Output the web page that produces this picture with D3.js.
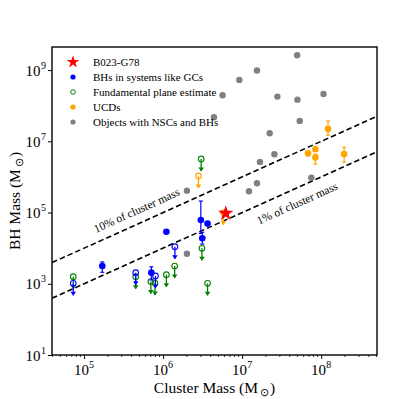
<!DOCTYPE html>
<html><head><meta charset="utf-8">
<script src="https://cdn.jsdelivr.net/npm/d3@7"></script>
<style>body{margin:0;background:#fff}svg text{font-family:"Liberation Serif","Times New Roman",serif}</style>
</head><body><svg id="c" width="419" height="399"></svg>
<script>
// ---- data ----
const xTicks = [1e5, 1e6, 1e7, 1e8];
const yTicks = [1e1, 1e3, 1e5, 1e7, 1e9];
const fracLines = [0.1, 0.01];
const fracLabels = ["10% of cluster mass", "1% of cluster mass"];
const fracLabelAt = [5.4e5, 4.2e7];

const legendLabels = ["B023-G78", "BHs in systems like GCs", "Fundamental plane estimate", "UCDs", "Objects with NSCs and BHs"];

// Objects with NSCs and BHs (grey)
const nscMass = [4.96e7, 1.54e7, 9.2e6, 5.65e6, 2.79e7, 5.0e7, 1.07e8, 4.4e6, 5.35e7, 2.23e7, 2.56e7, 1.68e7, 1.54e7, 1.22e7, 7.5e7, 2.0e6, 2.0e6];
const nscBH   = [2.6e9, 9.7e8, 5.3e8, 1.97e8, 1.8e8, 1.48e8, 2.14e8, 4.75e7, 3.74e7, 1.69e7, 4.34e6, 2.64e6, 6.65e5, 3.97e5, 9.55e5, 4.12e5, 7.0e3];

// BHs in systems like GCs (blue detections)
const gcMass = [1.7e5, 7.1e5, 1.1e6, 3.0e6, 3.65e6, 3.13e6];
const gcBH   = [3.16e3, 2.05e3, 2.9e4, 6.2e4, 4.9e4, 1.9e4];
const gcLo   = [2.1e3, 1.28e3, null, 2.6e4, null, 1.3e4];
const gcHi   = [4.1e3, 3.0e3, null, 2.1e5, null, 2.8e4];
// blue upper limits
const gcLimMass = [7.3e4, 4.5e5, 8.0e5, 1.41e6];
const gcLimBH   = [1.03e3, 2.05e3, 1.66e3, 1.1e4];

// Fundamental plane estimates (green, upper limits)
const fpMass = [7.3e4, 4.5e5, 7.0e5, 7.9e5, 1.1e6, 1.4e6, 3.03e6, 3.1e6, 3.65e6];
const fpBH   = [1.58e3, 1.58e3, 1.15e3, 1.05e3, 1.8e3, 3.16e3, 3.2e6, 9.9e3, 1.03e3];

// UCDs (orange)
const ucdMass = [1.22e8, 6.8e7, 8.45e7, 8.45e7, 1.95e8];
const ucdBH   = [2.23e7, 4.6e6, 6.0e6, 3.5e6, 4.4e6];
const ucdLo   = [1.48e7, 3.9e6, 5.2e6, 2.3e6, 2.6e6];
const ucdHi   = [3.7e7, 5.3e6, 7.0e6, 4.3e6, 6.8e6];
// UCD upper limits
const ucdLimMass = [2.8e6, 5.8e6];
const ucdLimBH   = [1.07e6, 9.9e4];

// B023-G78
const starMass = [6.2e6];
const starBH = [9.5e4];

// ---- layout ----
const svg = d3.select("#c");
const L = 52, R = 377, T = 47, B = 355;
const x = d3.scaleLog().domain([3.93e4, 5.08e8]).range([L, R]);
const y = d3.scaleLog().domain([10, 4.45e9]).range([B, T]);

const C = {blue: "#0000ff", green: "#008000", orange: "#ffa500", grey: "#808080", red: "#ff0000"};

svg.append("defs").append("clipPath").attr("id", "clip")
  .append("rect").attr("x", L).attr("y", T).attr("width", R - L).attr("height", B - T);

// x axis
const xAxis = d3.axisBottom(x).tickValues(xTicks).tickSize(4).tickFormat("");
const gx = svg.append("g").attr("transform", `translate(0,${B})`).call(xAxis);
gx.select(".domain").remove();
gx.selectAll("line").attr("stroke", "#000").attr("stroke-width", 1);
const minor = [];
for (let e = 4; e <= 8; e++) for (let m = 2; m <= 9; m++) { const v = m * Math.pow(10, e); if (v > 3.93e4 && v < 5.08e8) minor.push(v); }
svg.append("g").selectAll("line").data(minor).join("line")
  .attr("x1", d => x(d)).attr("x2", d => x(d)).attr("y1", B).attr("y2", B + 2)
  .attr("stroke", "#000").attr("stroke-width", 0.8);

const expo = d => Math.round(Math.log10(d));
const gxl = svg.append("g");
gxl.selectAll("text.b").data(xTicks).join("text").attr("class", "b")
  .attr("x", d => x(d) - 2.6).attr("y", B + 20).attr("text-anchor", "middle")
  .attr("font-size", 15).text("10");
gxl.selectAll("text.e").data(xTicks).join("text").attr("class", "e")
  .attr("x", d => x(d) + 5).attr("y", B + 13).attr("font-size", 10).text(d => expo(d));

// y axis
const yAxis = d3.axisLeft(y).tickValues(yTicks).tickSize(4).tickFormat("");
const gy = svg.append("g").attr("transform", `translate(${L},0)`).call(yAxis);
gy.select(".domain").remove();
gy.selectAll("line").attr("stroke", "#000").attr("stroke-width", 1);
const gyl = svg.append("g");
gyl.selectAll("text.b").data(yTicks).join("text").attr("class", "b")
  .attr("x", L - 11.5).attr("y", d => y(d) + 5.5).attr("text-anchor", "end")
  .attr("font-size", 15).text("10");
gyl.selectAll("text.e").data(yTicks).join("text").attr("class", "e")
  .attr("x", L - 11).attr("y", d => y(d) - 1.5).attr("font-size", 10).text(d => expo(d));

// axis titles
const xt = svg.append("text").attr("x", (L + R) / 2).attr("y", 393).attr("text-anchor", "middle").attr("font-size", 15.5);
xt.append("tspan").text("Cluster Mass (M");
xt.append("tspan").text("\u2299").attr("font-size", 11).attr("dy", 3).attr("dx", 2);
xt.append("tspan").text(")").attr("dy", -3).attr("dx", 1);
const yt = svg.append("text").attr("transform", `translate(20,${(T + B) / 2}) rotate(-90)`).attr("text-anchor", "middle").attr("font-size", 15.5);
yt.append("tspan").text("BH Mass (M");
yt.append("tspan").text("\u2299").attr("font-size", 11).attr("dy", 3).attr("dx", 2);
yt.append("tspan").text(")").attr("dy", -3).attr("dx", 1);

const plot = svg.append("g").attr("clip-path", "url(#clip)");

// fraction lines
const xs = x.domain();
fracLines.forEach(f => {
  plot.append("line")
    .attr("x1", x(xs[0])).attr("y1", y(xs[0] * f))
    .attr("x2", x(xs[1])).attr("y2", y(xs[1] * f))
    .attr("stroke", "#000").attr("stroke-width", 1.6).attr("stroke-dasharray", "5.5,3");
});
const ang = Math.atan2(y(1e5) - y(1e6), x(1e6) - x(1e5)) * 180 / Math.PI;
const offs = [-9, 18];
fracLines.forEach((f, i) => {
  const m = fracLabelAt[i];
  const px = x(m), py = y(m * f);
  const a = ang * Math.PI / 180;
  const dxp = offs[i] * Math.sin(a), dyp = offs[i] * Math.cos(a);
  svg.append("text").attr("transform", `translate(${px + dxp},${py + dyp}) rotate(${-ang})`)
    .attr("text-anchor", "middle").attr("font-size", 11.5).text(fracLabels[i]);
});

const ARROW = 12;
function arrow(g, mx, by, color) {
  const px = x(mx), py = y(by);
  g.append("line").attr("x1", px).attr("x2", px).attr("y1", py).attr("y2", py + ARROW)
    .attr("stroke", color).attr("stroke-width", 1.3);
  g.append("path").attr("d", `M${px - 2.8},${py + ARROW - 3.5} L${px + 2.8},${py + ARROW - 3.5} L${px},${py + ARROW + 0.5} Z`).attr("fill", color);
}
function errbar(g, mx, lo, hi, color) {
  if (lo == null) return;
  const px = x(mx);
  g.append("line").attr("x1", px).attr("x2", px).attr("y1", y(lo)).attr("y2", y(hi)).attr("stroke", color).attr("stroke-width", 1.2);
  [lo, hi].forEach(v => g.append("line").attr("x1", px - 2).attr("x2", px + 2).attr("y1", y(v)).attr("y2", y(v)).attr("stroke", color).attr("stroke-width", 1.2));
}

plot.append("g").selectAll("circle").data(nscMass).join("circle")
  .attr("cx", d => x(d)).attr("cy", (d, i) => y(nscBH[i])).attr("r", 3.2).attr("fill", C.grey);

const gG = plot.append("g");
fpMass.forEach((m, i) => arrow(gG, m, fpBH[i], C.green));
gG.selectAll("circle").data(fpMass).join("circle")
  .attr("cx", d => x(d)).attr("cy", (d, i) => y(fpBH[i])).attr("r", 2.8)
  .attr("fill", "none").attr("stroke", C.green).attr("stroke-width", 1.1);

const gBL = plot.append("g");
gcLimMass.forEach((m, i) => arrow(gBL, m, gcLimBH[i], C.blue));
gBL.selectAll("circle").data(gcLimMass).join("circle")
  .attr("cx", d => x(d)).attr("cy", (d, i) => y(gcLimBH[i])).attr("r", 2.8)
  .attr("fill", "none").attr("stroke", C.blue).attr("stroke-width", 1.1);

const gB = plot.append("g");
gcMass.forEach((m, i) => errbar(gB, m, gcLo[i], gcHi[i], C.blue));
gB.selectAll("circle").data(gcMass).join("circle")
  .attr("cx", d => x(d)).attr("cy", (d, i) => y(gcBH[i])).attr("r", 3.3).attr("fill", C.blue);

const gOL = plot.append("g");
ucdLimMass.forEach((m, i) => arrow(gOL, m, ucdLimBH[i], C.orange));
gOL.selectAll("circle").data(ucdLimMass).join("circle")
  .attr("cx", d => x(d)).attr("cy", (d, i) => y(ucdLimBH[i])).attr("r", 2.8)
  .attr("fill", "none").attr("stroke", C.orange).attr("stroke-width", 1.1);

const gO = plot.append("g");
ucdMass.forEach((m, i) => errbar(gO, m, ucdLo[i], ucdHi[i], C.orange));
gO.selectAll("circle").data(ucdMass).join("circle")
  .attr("cx", d => x(d)).attr("cy", (d, i) => y(ucdBH[i])).attr("r", 3.3).attr("fill", C.orange);

const star = d3.symbol().type(d3.symbolStar);
plot.append("g").selectAll("path").data(starMass).join("path")
  .attr("transform", (d, i) => `translate(${x(d)},${y(starBH[i])})`)
  .attr("d", star.size(75)).attr("fill", C.red);

svg.append("rect").attr("x", L).attr("y", T).attr("width", R - L).attr("height", B - T)
  .attr("fill", "none").attr("stroke", "#111").attr("stroke-width", 1.5);

// legend
const lg = svg.append("g");
const rowY = d => 62 + d * 15;
legendLabels.forEach((t, i) => {
  lg.append("text").attr("x", 93).attr("y", rowY(i) + 4).attr("font-size", 11).text(t);
});
lg.append("path").attr("transform", `translate(73,${rowY(0)})`).attr("d", star.size(50)).attr("fill", C.red);
lg.append("circle").attr("cx", 73).attr("cy", rowY(1)).attr("r", 2.6).attr("fill", C.blue);
lg.append("circle").attr("cx", 73).attr("cy", rowY(2)).attr("r", 2.3).attr("fill", "none").attr("stroke", C.green).attr("stroke-width", 1);
lg.append("circle").attr("cx", 73).attr("cy", rowY(3)).attr("r", 2.6).attr("fill", C.orange);
lg.append("circle").attr("cx", 73).attr("cy", rowY(4)).attr("r", 2.6).attr("fill", C.grey);
</script></body></html>
